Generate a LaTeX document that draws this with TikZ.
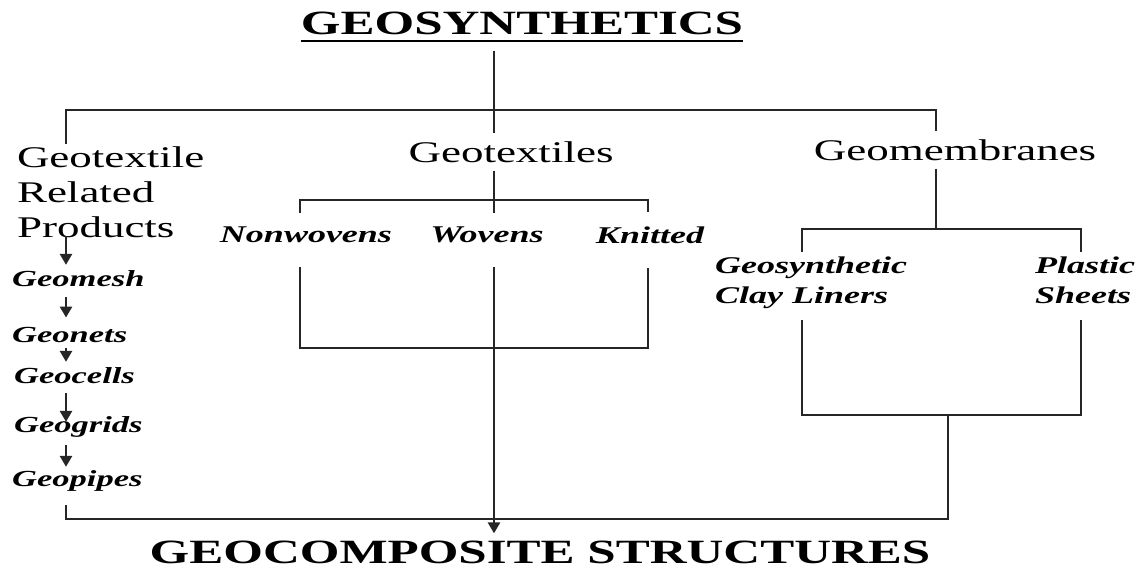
\documentclass[tikz,border=0pt]{standalone}
\usepackage{fontspec}
\setmainfont{Liberation Serif}[FakeStretch=1.5]
\usetikzlibrary{arrows.meta}

\begin{document}
\begin{tikzpicture}[x=1pt,y=-1pt,
  ln/.style={line width=2.6pt,draw=black!85},
  arr/.style={ln,-{Triangle[length=11pt,width=12pt]}},
  big/.style={inner sep=0pt,font=\fontsize{34}{40}\selectfont\bfseries},
  head/.style={inner sep=0pt,outer sep=8pt,font=\fontsize{30}{35}\selectfont},
  kind/.style={inner sep=0pt,align=left,font=\fontsize{24}{30}\selectfont\bfseries\itshape},
  item/.style={inner sep=0pt,anchor=base west,font=\fontsize{23}{28}\selectfont\bfseries\itshape}]
  \useasboundingbox (0,0) rectangle (1140,569);
  % columns and bar levels
  \coordinate (lc) at (66,0);  \coordinate (tk) at (494,0);
  \coordinate (nw) at (300,0); \coordinate (kn) at (648,0);
  \coordinate (cl) at (802,0); \coordinate (ps) at (1081,0);
  \coordinate (mb) at (936,0); \coordinate (rb) at (948,0);
  \coordinate (top) at (0,110);  \coordinate (tbar) at (0,200);
  \coordinate (mbar) at (0,229); \coordinate (low) at (0,348);
  \coordinate (rlow) at (0,415); \coordinate (base) at (0,519);
  % text
  \node[big] (title) at (522,23) {GEOSYNTHETICS};
  \draw[line width=2pt] ([yshift=-6pt]title.south west) -- ([yshift=-6pt]title.south east);
  \node[head] (gtx) at (511,152) {Geotextiles};
  \node[head] (gmb) at (955,150) {Geomembranes};
  \node[head,outer sep=3pt,anchor=north west,align=left] (rel) at (14,144) {Geotextile\\Related\\Products};
  \node[kind] (nonw) at (306,235) {Nonwovens};
  \node[kind] (wov) at (487,235) {Wovens};
  \node[kind] (knit) at (650,235) {Knitted};
  \node[kind,anchor=north west] (gcl) at (715,257) {Geosynthetic\\Clay Liners};
  \node[kind,anchor=north west] (plast) at (1035,257) {Plastic\\Sheets};
  \node[item] (mesh) at (12,287) {Geomesh};
  \node[item] (nets) at (12,342) {Geonets};
  \node[item] (cells) at (14,383) {Geocells};
  \node[item] (grids) at (14,432) {Geogrids};
  \node[item] (pipes) at (12,486) {Geopipes};
  \node[big] (gcs) at (540,552) {GEOCOMPOSITE STRUCTURES};
  % main tree
  \draw[ln] (tk |- title.south) ++(0,16) -- (tk |- gtx.north);
  \draw[ln] (lc |- rel.north) |- (mb |- top) -- (mb |- gmb.north);
  \foreach \a/\b/\s/\e in {rel/mesh/-5/6,mesh/nets/10/9,nets/cells/6/5,cells/grids/10/-6,grids/pipes/8/3}
    \draw[arr,shorten <=\s pt,shorten >=\e pt] (lc |- \a.south) -- (lc |- \b.north);
  % geotextiles
  \draw[ln,shorten >=14pt] (tk |- gtx.south) -- (tk |- wov.north);
  \draw[ln,shorten <=14pt,shorten >=14pt] (nw |- nonw.north) |- (kn |- tbar) -- (kn |- knit.north);
  \draw[ln,shorten <=24pt,shorten >=24pt] (nw |- nonw.south) |- (kn |- low) -- (kn |- knit.south);
  \draw[arr,shorten <=24pt,shorten >=7pt] (tk |- wov.south) -- (tk |- gcs.north);
  % geomembranes
  \draw[ln] (mb |- gmb.south) -- (mb |- mbar);
  \draw[ln,shorten <=5pt,shorten >=5pt] (cl |- gcl.north) |- (ps |- mbar) -- (ps |- plast.north);
  \draw[ln,shorten <=11pt,shorten >=11pt] (cl |- gcl.south) |- (ps |- rlow) -- (ps |- gcl.south);
  % to geocomposites
  \draw[ln] (lc |- pipes.south) ++(0,14) |- (rb |- base) -- (rb |- rlow);
\end{tikzpicture}
\end{document}
